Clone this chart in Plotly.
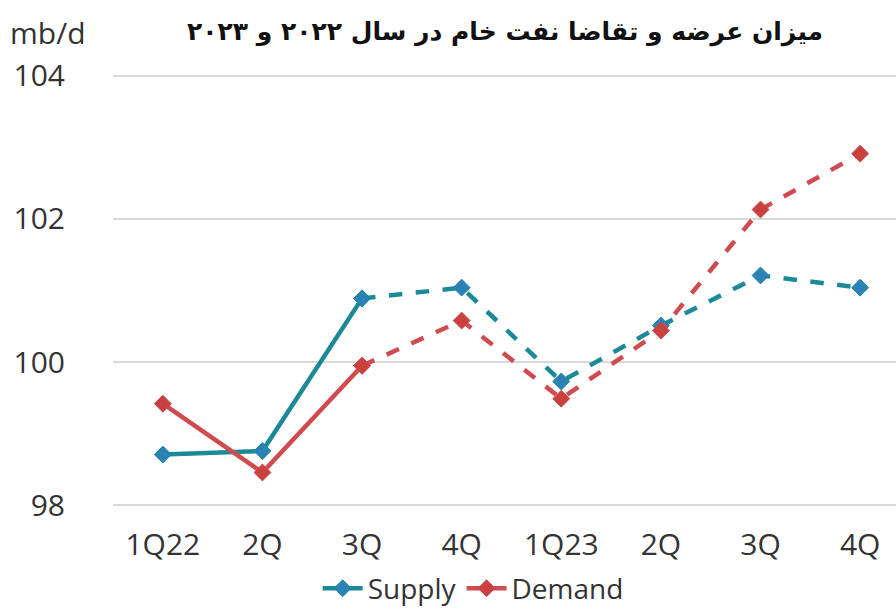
import plotly.graph_objects as go

categories = ["1Q22", "2Q", "3Q", "4Q", "1Q23", "2Q", "3Q", "4Q"]
supply = [98.71, 98.76, 100.89, 101.04, 99.73, 100.51, 101.21, 101.04]
demand = [99.42, 98.46, 99.95, 100.58, 99.49, 100.44, 102.13, 102.91]
y_ticks = [98, 100, 102, 104]
title_text = "میزان عرضه و تقاضا نفت خام در سال ۲۰۲۲ و ۲۰۲۳"
unit_text = "mb/d"

x = list(range(len(categories)))
split = 2  # solid up to 3Q 2022, dashed afterwards

SUP_LINE = "#1b8a96"
SUP_MARK = "#2b82b6"
DEM_LINE = "#d04b4f"
DEM_MARK = "#c9403f"

fig = go.Figure()

def add_series(name, vals, lc, mc):
    fig.add_trace(go.Scatter(
        x=x[:split + 1], y=vals[:split + 1], name=name, mode="lines+markers",
        line=dict(color=lc, width=4.5),
        marker=dict(symbol="diamond", size=13, color=mc, line=dict(color=lc, width=1)),
        legendgroup=name, showlegend=True))
    fig.add_trace(go.Scatter(
        x=x[split:], y=vals[split:], name=name, mode="lines+markers",
        line=dict(color=lc, width=4.5, dash="dash"),
        marker=dict(symbol="diamond", size=13, color=mc, line=dict(color=lc, width=1)),
        legendgroup=name, showlegend=False))

add_series("Supply", supply, SUP_LINE, SUP_MARK)
add_series("Demand", demand, DEM_LINE, DEM_MARK)

fig.update_layout(
    width=896, height=611,
    margin=dict(l=113, r=0, t=72, b=102, autoexpand=False),
    paper_bgcolor="white", plot_bgcolor="white",
    font=dict(family="Open Sans, DejaVu Sans", color="#333333"),
    showlegend=True,
    legend=dict(orientation="h", x=0.46, xanchor="center", y=-0.182, yanchor="middle",
                bgcolor="rgba(0,0,0,0)",
                font=dict(size=28, color="#333333"), itemwidth=40, tracegroupgap=0),
    xaxis=dict(
        tickmode="array", tickvals=x, ticktext=categories, automargin=False,
        range=[-0.5, 7.36], showgrid=False, zeroline=False, showline=False,
        ticks="", tickfont=dict(size=30, color="#333333"), ticklabelstandoff=15),
    yaxis=dict(
        tickmode="array", tickvals=y_ticks, ticktext=[str(v) for v in y_ticks],
        range=[97.95, 104.05], showgrid=True, gridcolor="#d9d9d9", gridwidth=2,
        zeroline=False, showline=False, ticks="", automargin=False,
        tickfont=dict(size=30, color="#333333"), ticklabelstandoff=47),
    annotations=[
        dict(text="<b>" + title_text + "</b>", xref="paper", yref="paper", x=0.50, y=1.0, yshift=40,
             xanchor="center", yanchor="middle", showarrow=False,
             font=dict(family="DejaVu Sans", size=25, color="#111111")),
        dict(text=unit_text, xref="paper", yref="paper", x=0, xshift=-105, y=1.0, yshift=40,
             xanchor="left", yanchor="middle", showarrow=False,
             font=dict(family="Open Sans", size=30, color="#333333")),
    ],
)

fig.write_html("out.html", config={"displayModeBar": False},
               post_script="document.body.style.margin='0';document.body.style.overflow='hidden';")
